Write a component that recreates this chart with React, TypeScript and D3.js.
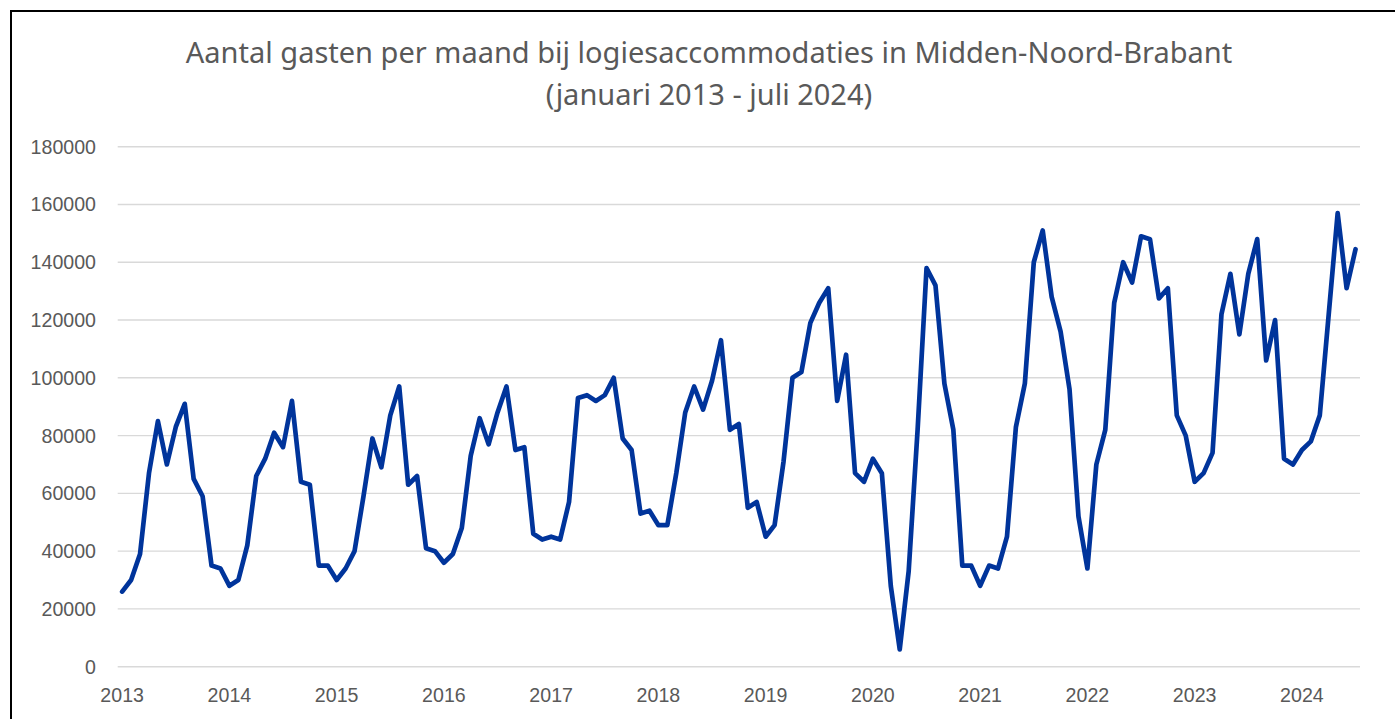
import React from "react";
import * as d3 from "d3";

const TITLE_LINES = [
  "Aantal gasten per maand bij logiesaccommodaties in Midden-Noord-Brabant",
  "(januari 2013 - juli 2024)",
];

const YEARS = ["2013", "2014", "2015", "2016", "2017", "2018", "2019", "2020", "2021", "2022", "2023", "2024"];

const Y_TICKS = [0, 20000, 40000, 60000, 80000, 100000, 120000, 140000, 160000, 180000];

// monthly guests, Jan 2013 .. Jul 2024
const GUESTS_2013 = [26000, 30000, 39000, 67000, 85000, 70000, 83000, 91000, 65000, 59000, 35000, 34000];
const GUESTS_2014 = [28000, 30000, 42000, 66000, 72000, 81000, 76000, 92000, 64000, 63000, 35000, 35000];
const GUESTS_2015 = [30000, 34000, 40000, 59000, 79000, 69000, 87000, 97000, 63000, 66000, 41000, 40000];
const GUESTS_2016 = [36000, 39000, 48000, 73000, 86000, 77000, 88000, 97000, 75000, 76000, 46000, 44000];
const GUESTS_2017 = [45000, 44000, 57000, 93000, 94000, 92000, 94000, 100000, 79000, 75000, 53000, 54000];
const GUESTS_2018 = [49000, 49000, 67000, 88000, 97000, 89000, 99000, 113000, 82000, 84000, 55000, 57000];
const GUESTS_2019 = [45000, 49000, 71000, 100000, 102000, 119000, 126000, 131000, 92000, 108000, 67000, 64000];
const GUESTS_2020 = [72000, 67000, 28000, 6000, 33000, 82000, 138000, 132000, 98000, 82000, 35000, 35000];
const GUESTS_2021 = [28000, 35000, 34000, 45000, 83000, 98000, 140000, 151000, 128000, 116000, 96000, 52000];
const GUESTS_2022 = [34000, 70000, 82000, 126000, 140000, 133000, 149000, 148000, 127500, 131000, 87000, 80000];
const GUESTS_2023 = [64000, 67000, 74000, 122000, 136000, 115000, 136000, 148000, 106000, 120000, 72000, 70000];
const GUESTS_2024 = [75000, 78000, 87000, 122000, 157000, 131000, 144500];

const GUESTS = [
  ...GUESTS_2013, ...GUESTS_2014, ...GUESTS_2015, ...GUESTS_2016,
  ...GUESTS_2017, ...GUESTS_2018, ...GUESTS_2019, ...GUESTS_2020,
  ...GUESTS_2021, ...GUESTS_2022, ...GUESTS_2023, ...GUESTS_2024,
];

const W = 1395;
const H = 719;
const PLOT_LEFT = 117.7;
const PLOT_RIGHT = 1360;
const PLOT_TOP = 146.7;
const PLOT_BOTTOM = 666.7;
const TEXT_COLOR = "#595959";
const GRID_COLOR = "#d9d9d9";
const LINE_COLOR = "#00349b";
const TICK_FONT = { fontFamily: "'Liberation Sans', Arial, sans-serif", fontSize: 19.6 };

export default function App() {
  const idx = GUESTS.map((_, i) => i);
  const x = d3.scaleBand<number>().domain(idx).range([PLOT_LEFT, PLOT_RIGHT]).padding(0);
  const cx = (i: number) => (x(i) as number) + x.bandwidth() / 2;
  const y = d3.scaleLinear().domain([0, 180000]).range([PLOT_BOTTOM, PLOT_TOP]);

  const line = d3
    .line<number>()
    .x((_, i) => cx(i))
    .y((d) => y(d));

  return (
    <div style={{ position: "fixed", left: 0, top: 0, width: W, height: H, background: "#fff" }}>
      <svg width={W} height={H} style={{ display: "block" }}>
        <rect x={0} y={0} width={W} height={H} fill="#fff" />
        <rect x={11} y={11} width={W + 20} height={H + 20} fill="none" stroke="#000" strokeWidth={2} />
        {TITLE_LINES.map((t, i) => (
          <text
            key={t}
            x={709}
            y={63 + i * 42}
            textAnchor="middle"
            fill={TEXT_COLOR}
            style={{ fontFamily: "'Noto Sans', sans-serif", fontSize: 29 }}
          >
            {t}
          </text>
        ))}
        {Y_TICKS.map((t) => (
          <g key={t}>
            <line x1={PLOT_LEFT} x2={PLOT_RIGHT} y1={y(t)} y2={y(t)} stroke={GRID_COLOR} strokeWidth={1.4} />
            <text x={96} y={y(t) + 7} textAnchor="end" fill={TEXT_COLOR} style={TICK_FONT}>
              {t}
            </text>
          </g>
        ))}
        {YEARS.map((yr, k) => (
          <text key={yr} x={cx(k * 12)} y={701.5} textAnchor="middle" fill={TEXT_COLOR} style={TICK_FONT}>
            {yr}
          </text>
        ))}
        <path
          d={line(GUESTS) || ""}
          fill="none"
          stroke={LINE_COLOR}
          strokeWidth={4.7}
          strokeLinejoin="round"
          strokeLinecap="round"
        />
      </svg>
    </div>
  );
}
